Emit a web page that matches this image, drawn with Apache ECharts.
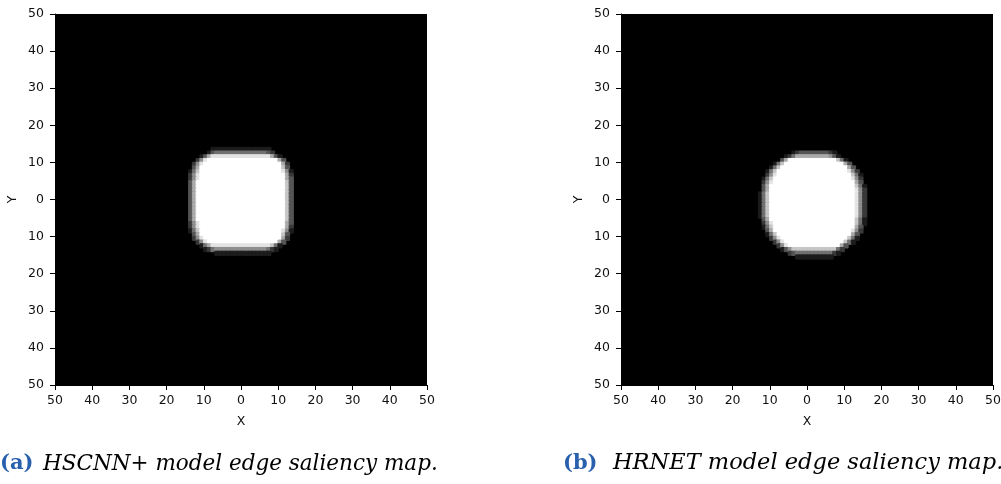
<!DOCTYPE html>
<html><head><meta charset="utf-8">
<script src="https://cdn.jsdelivr.net/npm/echarts@6/dist/echarts.min.js"></script>
<style>html,body{margin:0;padding:0;background:#fff}#c{width:1001px;height:484px}</style>
</head><body><div id="c"></div><script>
// ---- data ----
const GRID_N = 100;                       // 100 x 100 cells, x and y from -50 to 50
const tickValues = [-50, -40, -30, -20, -10, 0, 10, 20, 30, 40, 50];
const tickLabels = ['50', '40', '30', '20', '10', '0', '10', '20', '30', '40', '50'];
const xName = 'X';
const yName = 'Y';
const captionA = ['(a)', 'HSCNN+ model edge saliency map.'];
const captionB = ['(b)', 'HRNET model edge saliency map.'];

// Blob intensities (0 = black, 9 = white), row by row from the top; "v*n" = value v repeated n times.
// Everything outside these patches is 0 (black).
const leftRowStart = 36, leftColStart = 35;
const leftRows = [
  "0*7 1*16 0*7",
  "0*6 1 3 4*14 3 2 0*6",
  "0*4 1 3 6 8*16 6 3 1 0*4",
  "0*3 2 5 8 9*19 6 3 0*3",
  "0*2 2 5 8 9*21 6 2 0*2",
  "0*2 3 6 9*22 7 3 0 0",
  "0 1 4 7 9*22 8 5 1 0",
  "0 2 5 8 9*23 6 2 0",
  "0 2 5 8 9*23 6 3 0",
  "0 3 6 9*24 7 3 0",
  "0 3 6 9*24 7 3 0",
  "0 3 6 9*24 7 3 0",
  "0 3 6 9*24 7 3 0",
  "0 3 6 9*24 7 3 0",
  "0 3 6 9*24 7 3 0",
  "0 3 6 9*24 7 3 0",
  "0 3 6 9*24 7 3 0",
  "0 3 6 9*24 7 3 0",
  "0 3 6 9*24 7 3 0",
  "0 3 6 9*24 7 3 0",
  "0 2 5 8 9*23 6 3 0",
  "0 2 5 8 9*23 6 2 0",
  "0 1 4 7 9*22 8 5 1 0",
  "0*2 3 6 9*22 7 3 0 0",
  "0*2 2 5 8 9*21 6 2 0*2",
  "0*3 2 5 8 9*19 6 3 0*3",
  "0*4 1 4 6 8*16 7 4 1 0*4",
  "0*5 1 2 4 5*14 4 2 1 0*5",
  "0*8 1 1*13 1 0*7"
];
const rightRowStart = 37, rightColStart = 37;
const rightRows = [
  "0*9 1 2 3*8 2 1 0*9",
  "0*7 1 2 4 6*9 5 3 1 0*8",
  "0*6 3 6 9*13 7 4 1 0*6",
  "0*4 1 4 7 9*16 6 3 0*5",
  "0*3 1 4 7 9*18 6 3 0*4",
  "0*2 1 4 7 9*19 8 5 2 0*3",
  "0*2 2 5 8 9*20 7 4 1 0*2",
  "0 1 4 7 9*21 8 5 2 0*2",
  "0 2 5 8 9*22 6 3 0*2",
  "0 3 6 9*23 7 4 1 0",
  "0 3 6 9*23 8 5 2 0",
  "1 4 7 9*23 8 5 2 0",
  "1 4 7 9*23 8 5 2 0",
  "1 4 7 9*23 8 5 2 0",
  "1 4 7 9*23 8 5 2 0",
  "1 4 7 9*23 8 5 2 0",
  "1 4 7 9*23 8 5 2 0",
  "1 4 7 9*23 8 5 2 0",
  "0 3 6 9*23 7 4 1 0",
  "0 2 5 8 9*22 7 4 1 0",
  "0 1 4 7 9*22 6 3 0*2",
  "0*2 3 6 9*21 8 5 2 0*2",
  "0*2 1 4 7 9*20 6 3 0*3",
  "0*3 2 5 8 9*18 7 4 1 0*3",
  "0*4 2 5 8 9*16 7 4 1 0*4",
  "0*5 2 5 8 9*14 6 3 0*6",
  "0*6 1 3 5 7*12 4 2 0*7",
  "0*8 2 3 4*10 2 1 0*8",
  "0*10 1*10 0*10"
];

// ---- build ----
const MAX_LEVEL = 9;
function decodeRow(s) {
  const out = [];
  s.trim().split(/\s+/).forEach(tok => {
    const p = tok.split('*');
    const v = +p[0], n = p.length > 1 ? +p[1] : 1;
    for (let i = 0; i < n; i++) out.push(v);
  });
  return out;
}
function grayOf(v) {
  const g = Math.round(v / MAX_LEVEL * 255);
  return 'rgb(' + g + ',' + g + ',' + g + ')';
}
function buildCells(rows, rowStart, colStart) {
  const cells = [];
  rows.forEach((s, i) => {
    const r = rowStart + i;
    decodeRow(s).forEach((v, j) => {
      if (v > 0) {
        const c = grayOf(v);
        cells.push({value: [colStart + j, GRID_N - 1 - r, v],
          itemStyle: {color: c, borderColor: c, borderWidth: 1}});
      }
    });
  });
  return cells;
}
const cats = Array.from({length: GRID_N}, (_, i) => String(i));
const labelOf = v => { const i = tickValues.indexOf(v); return i >= 0 ? tickLabels[i] : ''; };

const FONT = 'DejaVu Sans';
const TXT = '#111';
function valueAxis(gi, isX) {
  return {
    gridIndex: gi, type: 'value', min: tickValues[0], max: tickValues[tickValues.length - 1], interval: 10,
    position: isX ? 'bottom' : 'left',
    name: isX ? xName : yName, nameLocation: 'middle', nameGap: isX ? 30 : 36, nameRotate: isX ? 0 : 90,
    nameTextStyle: {fontFamily: FONT, fontSize: 12.5, color: TXT},
    axisLine: {show: true, onZero: false, lineStyle: {color: '#000', width: 1}},
    axisTick: {show: true, length: 5, lineStyle: {color: '#000', width: 1}},
    splitLine: {show: false},
    axisLabel: {fontFamily: FONT, fontSize: 12.5, color: TXT, margin: isX ? 9 : 11,
      showMinLabel: true, showMaxLabel: true, hideOverlap: false, formatter: v => labelOf(v)}
  };
}
function catAxis(gi) {
  return {gridIndex: gi, type: 'category', data: cats, show: false};
}
const G0 = {left: 55, top: 14, width: 372, height: 371};
const G1 = {left: 621, top: 14, width: 372, height: 371};

const chart = echarts.init(document.getElementById('c'), null, {renderer: 'canvas'});
chart.setOption({
  animation: false,
  backgroundColor: '#fff',
  grid: [
    Object.assign({show: true, backgroundColor: '#000', borderWidth: 0, containLabel: false, outerBoundsMode: 'none'}, G0),
    Object.assign({show: true, backgroundColor: '#000', borderWidth: 0, containLabel: false, outerBoundsMode: 'none'}, G1)
  ],
  xAxis: [catAxis(0), catAxis(1), valueAxis(0, true), valueAxis(1, true)],
  yAxis: [catAxis(0), catAxis(1), valueAxis(0, false), valueAxis(1, false)],
  series: [
    {type: 'heatmap', xAxisIndex: 0, yAxisIndex: 0, data: buildCells(leftRows, leftRowStart, leftColStart),
      emphasis: {disabled: true}, progressive: 0},
    {type: 'heatmap', xAxisIndex: 1, yAxisIndex: 1, data: buildCells(rightRows, rightRowStart, rightColStart),
      emphasis: {disabled: true}, progressive: 0}
  ],
  graphic: [
    {type: 'text', left: 0, top: 453, style: {text: captionA[0], fill: '#2860ad',
      font: 'bold 21px "DejaVu Serif"'}},
    {type: 'text', left: 43, top: 453, style: {text: captionA[1], fill: '#000',
      font: 'italic 21.5px "DejaVu Serif"'}},
    {type: 'text', left: 563, top: 453, style: {text: captionB[0], fill: '#2860ad',
      font: 'bold 21px "DejaVu Serif"'}},
    {type: 'text', left: 613, top: 452, style: {text: captionB[1], fill: '#000',
      font: 'italic 22.5px "DejaVu Serif"'}}
  ]
});
</script></body></html>
